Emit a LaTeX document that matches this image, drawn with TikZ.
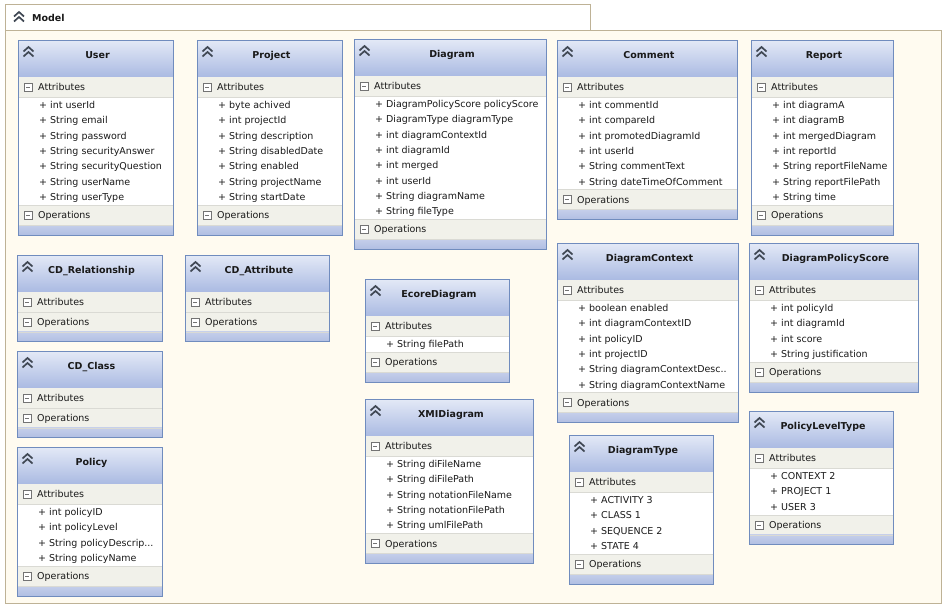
\documentclass[tikz,border=0pt]{standalone}
\usepackage{fontspec}
\setmainfont{DejaVu Sans}
\usepackage{tikz}
\usetikzlibrary{calc,
  positioning
}
\definecolor{cream}{RGB}{255,251,240}
\definecolor{framecol}{RGB}{190,178,150}
\definecolor{classcol}{RGB}{112,140,190}
\definecolor{headtop}{RGB}{226,232,246}
\definecolor{headbot}{RGB}{170,186,226}
\definecolor{foottop}{RGB}{196,206,234}
\definecolor{footbot}{RGB}{176,190,226}
\definecolor{bandcol}{RGB}{241,241,234}
\definecolor{sepcol}{RGB}{218,218,212}
\definecolor{iconcol}{RGB}{64,72,84}

\tikzstyle{frameline} = [draw=framecol, line width=0.9]
\tikzstyle{classline} = [draw=classcol, line width=1]
\tikzstyle{sepline} = [draw=sepcol, line width=0.8]
\tikzstyle{chevron} = [draw=iconcol, line width=1.7, line join=miter]
\tikzstyle{minusline} = [draw=black!55, line width=0.6]
\tikzstyle{classtitle} = [font=\fontsize{9.5}{11}\selectfont\bfseries, text=black!90, inner sep=0pt, anchor=base]
\tikzstyle{compartment} = [font=\fontsize{9.5}{11}\selectfont, text=black!90, inner sep=0pt, anchor=base west]
\tikzstyle{attribute} = [font=\fontsize{9.5}{11}\selectfont, text=black!90, inner sep=0pt, anchor=base west]

% double chevron, #1 centre x, #2 apex y
\newcommand{\umlcollapse}[2]{%
  \draw[chevron] ({#1-5},{#2+4.5}) -- ({#1},{#2}) -- ({#1+5},{#2+4.5});
  \draw[chevron] ({#1-5},{#2+9.5}) -- ({#1},{#2+5}) -- ({#1+5},{#2+9.5});
}
% boxed minus, #1 centre x, #2 centre y
\newcommand{\umlminus}[2]{%
  \draw[minusline, fill=white] ({#1-4},{#2-4}) rectangle ({#1+4},{#2+4});
  \draw[minusline] ({#1-2},{#2}) -- ({#1+2},{#2});
}
% #1 name, #2 left, #3 top, #4 right, #5 title, #6 count, #7 attributes
\newcommand{\umlclass}[7]{%
  \pgfmathsetmacro{\hdbot}{#3+36}
  \pgfmathsetmacro{\atbot}{\hdbot+20}
  \pgfmathsetmacro{\itbot}{\atbot+15.3*#6+min(#6,1)}
  \pgfmathsetmacro{\opbot}{\itbot+20}
  \pgfmathsetmacro{\boxbot}{\opbot+10}
  \shade[top color=headtop, bottom color=headbot] (#2,#3) rectangle (#4,\hdbot);
  \fill[bandcol] (#2,\hdbot) rectangle (#4,\atbot);
  \fill[white] (#2,\atbot) rectangle (#4,\itbot);
  \fill[bandcol] (#2,\itbot) rectangle (#4,\opbot);
  \shade[top color=foottop, bottom color=footbot] (#2,\opbot) rectangle (#4,\boxbot);
  \draw[sepline] (#2,\atbot) -- (#4,\atbot);
  \draw[sepline] (#2,\itbot) -- (#4,\itbot);
  \draw[sepline] (#2,\opbot) -- (#4,\opbot);
  \draw[classline] (#2,#3) rectangle (#4,\boxbot);
  \umlcollapse{#2+10.5}{#3+6}
  \node[classtitle] (#1) at ({(#2+#4)/2+2},{#3+17.5}) {#5};
  \umlminus{#2+10}{(\hdbot+\atbot)/2}
  \node[compartment] (#1-attr) at ({#2+20},{(\hdbot+\atbot)/2+3.6}) {Attributes};
  \ifnum#6>0
    \foreach \a [count=\i] in {#7} {
      \node[attribute] (#1-a\i) at ({#2+21},{\atbot+11.6+15.3*(\i-1)}) {\a};
    }
  \fi
  \umlminus{#2+10}{(\itbot+\opbot)/2}
  \node[compartment] (#1-ops) at ({#2+20},{(\itbot+\opbot)/2+3.6}) {Operations};
}

\begin{document}
\begin{tikzpicture}[x=1pt, y=-1pt]
  \useasboundingbox[fill=white] (0,0) rectangle (948,609);

  % Model frame
  \draw[frameline, fill=white] (5,4) rectangle (590,30);
  \draw[frameline, fill=cream] (5,30) rectangle (941,603);
  \umlcollapse{19}{12}
  \node[classtitle, anchor=base west] (model) at (32,21.5) {Model};

  % first row
  \umlclass{user}{18}{41}{173}{User}{7}{+ int userId, + String email,
    + String password, + String securityAnswer, + String securityQuestion,
    + String userName, + String userType}
  \umlclass{project}{197}{41}{342}{Project}{7}{+ byte achived, + int projectId,
    + String description, + String disabledDate, + String enabled,
    + String projectName, + String startDate}
  \umlclass{diagram}{354}{40}{546}{Diagram}{8}{+ DiagramPolicyScore policyScore,
    + DiagramType diagramType, + int diagramContextId, + int diagramId,
    + int merged, + int userId, + String diagramName, + String fileType}
  \umlclass{comment}{557}{41}{737}{Comment}{6}{+ int commentId, + int compareId,
    + int promotedDiagramId, + int userId, + String commentText,
    + String dateTimeOfComment}
  \umlclass{report}{751}{41}{893}{Report}{7}{+ int diagramA, + int diagramB,
    + int mergedDiagram, + int reportId, + String reportFileName,
    + String reportFilePath, + String time}

  % left column
  \umlclass{relationship}{17}{256}{162}{CD\_Relationship}{0}{}
  \umlclass{cdattribute}{185}{256}{329}{CD\_Attribute}{0}{}
  \umlclass{cdclass}{17}{352}{162}{CD\_Class}{0}{}
  \umlclass{policy}{17}{448}{162}{Policy}{4}{+ int policyID, + int policyLevel,
    + String policyDescrip.{}.{}., + String policyName}

  % middle
  \umlclass{ecore}{365}{280}{509}{EcoreDiagram}{1}{+ String filePath}
  \umlclass{xmi}{365}{400}{533}{XMIDiagram}{5}{+ String diFileName,
    + String diFilePath, + String notationFileName, + String notationFilePath,
    + String umlFilePath}
  \umlclass{context}{557}{244}{738}{DiagramContext}{6}{+ boolean enabled,
    + int diagramContextID, + int policyID, + int projectID,
    + String diagramContextDesc.{}., + String diagramContextName}
  \umlclass{dtype}{569}{436}{713}{DiagramType}{4}{+ ACTIVITY 3, + CLASS 1,
    + SEQUENCE 2, + STATE 4}

  % right column
  \umlclass{score}{749}{244}{918}{DiagramPolicyScore}{4}{+ int policyId,
    + int diagramId, + int score, + String justification}
  \umlclass{level}{749}{412}{893}{PolicyLevelType}{3}{+ CONTEXT 2,
    + PROJECT 1, + USER 3}
\end{tikzpicture}
\end{document}
